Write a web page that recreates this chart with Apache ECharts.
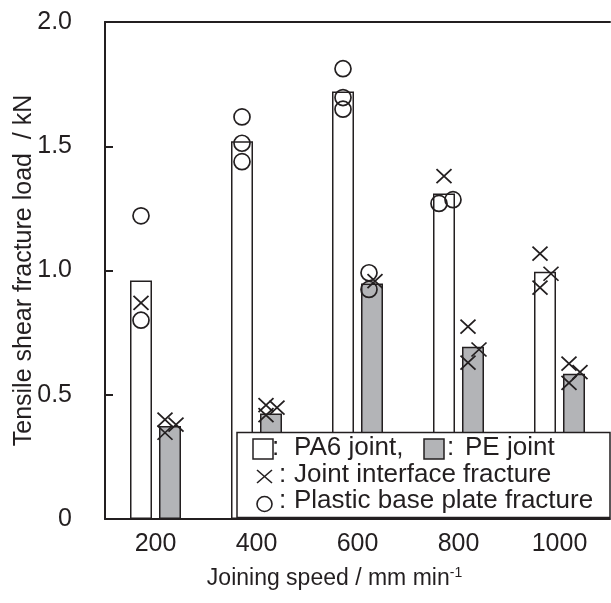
<!DOCTYPE html>
<html>
<head>
<meta charset="utf-8">
<script src="https://cdn.jsdelivr.net/npm/echarts@6/dist/echarts.min.js"></script>
<style>
html,body{margin:0;padding:0;background:#fff;}
#chart{width:611px;height:603px;}
</style>
</head>
<body>
<div id="chart"></div>
<script>
// ---- data ----
const categories = ['200', '400', '600', '800', '1000'];
const yTicks = [0, 0.5, 1.0, 1.5, 2.0];
const yTickLabels = ['0', '0.5', '1.0', '1.5', '2.0'];
const pa6Load = [0.96, 1.52, 1.72, 1.31, 0.995];
const peLoad = [0.374, 0.425, 0.948, 0.693, 0.585];
// individual specimens: joint interface fracture (×) and plastic base plate fracture (○)
const pa6Interface = [[0.87], [], [], [1.38], [1.068, 0.987, 0.931]];
const pa6BasePlate = [[1.22, 0.80], [1.618, 1.512, 1.438], [1.812, 1.696, 1.649], [1.27, 1.285], []];
const peInterface = [[0.40, 0.38, 0.347], [0.458, 0.448, 0.418], [0.957], [0.774, 0.682, 0.629], [0.625, 0.591, 0.548]];
const peBasePlate = [[], [], [0.991, 0.924], [], []];

// ---- styles ----
const INK = '#231f20';
const GREY = '#b3b4b7';
const FONT = '"Liberation Sans", Arial, sans-serif';
const BAR_W = 22;
const BAR_GAP = 7;
const HALF_PITCH = (BAR_W + BAR_GAP) / 2;

// small horizontal spread so overlapping specimen markers stay visible
function crossShift(group, i, circles) {
  const near = circles.some(c => Math.abs(c - group[i]) < 0.04);
  if (near) return 3;
  if (group.length > 1) return i % 2 === 1 ? 6 : -5;
  return 0;
}
function circleShift(group, i, crosses) {
  const nearCross = crosses.some(c => Math.abs(c - group[i]) < 0.04);
  if (nearCross) return -3;
  const close = group.some((v, j) => j !== i && Math.abs(v - group[i]) < 0.03);
  if (close) return i % 2 === 1 ? 9 : -5;
  return 0;
}

const crossData = [];
const circleData = [];
function addMarkers(interfaceArr, baseArr, side) {
  categories.forEach((cat, k) => {
    const xs = interfaceArr[k], os = baseArr[k];
    xs.forEach((v, i) => crossData.push({ value: [cat, v], symbolOffset: [side * HALF_PITCH + crossShift(xs, i, os), 0] }));
    os.forEach((v, i) => circleData.push({ value: [cat, v], symbolOffset: [side * HALF_PITCH + circleShift(os, i, xs), 0] }));
  });
}
addMarkers(pa6Interface, pa6BasePlate, -1);
addMarkers(peInterface, peBasePlate, 1);

const chart = echarts.init(document.getElementById('chart'), null, { renderer: 'canvas' });

const option = {
  animation: false,
  backgroundColor: '#fff',
  textStyle: { fontFamily: FONT, color: INK },
  grid: { left: 105, right: 1, top: 22, bottom: 84, containLabel: false, outerBoundsMode: 'none' },
  xAxis: [{
    type: 'category',
    data: categories,
    position: 'bottom',
    axisLine: { show: true, lineStyle: { color: INK, width: 2 } },
    axisTick: { show: false },
    axisLabel: { fontSize: 25, color: INK, fontFamily: FONT, margin: 13 },
    name: 'Joining speed / mm min{sup|-1}',
    nameLocation: 'middle',
    nameGap: 47,
    nameMoveOverlap: false,
    nameTextStyle: {
      fontSize: 23, color: INK, fontFamily: FONT,
      padding: [0, 46, 0, 0],
      rich: { sup: { fontSize: 14, color: INK, fontFamily: FONT, verticalAlign: 'top', padding: [0, 0, 12, 0] } }
    }
  }, {
    type: 'category',
    data: categories,
    position: 'top',
    axisLine: { show: true, lineStyle: { color: INK, width: 2 } },
    axisTick: { show: false },
    axisLabel: { show: false }
  }],
  yAxis: {
    type: 'value',
    min: 0, max: 2, interval: 0.5,
    axisLine: { show: true, lineStyle: { color: INK, width: 2 } },
    axisTick: { show: true, inside: true, length: 8, lineStyle: { color: INK, width: 2 } },
    splitLine: { show: false },
    axisLabel: {
      fontSize: 25, color: INK, fontFamily: FONT, margin: 33,
      formatter: v => { const i = yTicks.findIndex(t => Math.abs(t - v) < 1e-9); return i >= 0 ? yTickLabels[i] : ''; }
    },
    name: 'Tensile shear fracture load  / kN',
    nameLocation: 'middle',
    nameGap: 68,
    nameMoveOverlap: false,
    nameTextStyle: { fontSize: 25, color: INK, fontFamily: FONT }
  },
  series: [{
    name: 'PA6 joint',
    type: 'bar',
    data: pa6Load,
    barWidth: BAR_W,
    barGap: (BAR_GAP / BAR_W * 100).toFixed(1) + '%',
    itemStyle: { color: '#fff', borderColor: INK, borderWidth: 1.5 },
    silent: true,
    z: 2
  }, {
    name: 'PE joint',
    type: 'bar',
    data: peLoad,
    barWidth: BAR_W,
    itemStyle: { color: GREY, borderColor: INK, borderWidth: 1.5 },
    silent: true,
    z: 2
  }, {
    name: 'Joint interface fracture',
    type: 'scatter',
    data: crossData,
    symbol: 'path://M0,0L10,10M10,0L0,10',
    symbolSize: [15, 14],
    itemStyle: { color: 'rgba(0,0,0,0)', borderColor: INK, borderWidth: 1.7, opacity: 1 },
    silent: true,
    z: 5
  }, {
    name: 'Plastic base plate fracture',
    type: 'scatter',
    data: circleData,
    symbol: 'circle',
    symbolSize: 16,
    itemStyle: { color: 'rgba(0,0,0,0)', borderColor: INK, borderWidth: 1.7, opacity: 1 },
    silent: true,
    z: 5
  }],
  graphic: {
    elements: [
      { type: 'rect', z: 100, shape: { x: 237, y: 432.5, width: 373, height: 85 },
        style: { fill: '#fff', stroke: INK, lineWidth: 1.5 } },
      { type: 'rect', z: 101, shape: { x: 253, y: 439, width: 20, height: 20 },
        style: { fill: '#fff', stroke: INK, lineWidth: 1.5 } },
      { type: 'text', z: 101, x: 272, y: 447.5,
        style: { text: ':', font: '26px ' + FONT, fill: INK, textVerticalAlign: 'middle' } },
      { type: 'text', z: 101, x: 294, y: 447.5,
        style: { text: 'PA6 joint,', font: '26px ' + FONT, fill: INK, textVerticalAlign: 'middle' } },
      { type: 'rect', z: 101, shape: { x: 424, y: 439, width: 20, height: 20 },
        style: { fill: GREY, stroke: INK, lineWidth: 1.5 } },
      { type: 'text', z: 101, x: 447, y: 447.5,
        style: { text: ':', font: '26px ' + FONT, fill: INK, textVerticalAlign: 'middle' } },
      { type: 'text', z: 101, x: 465, y: 447.5,
        style: { text: 'PE joint', font: '26px ' + FONT, fill: INK, textVerticalAlign: 'middle' } },
      { type: 'line', z: 101, shape: { x1: 257, y1: 470, x2: 272, y2: 483 }, style: { stroke: INK, lineWidth: 1.6 } },
      { type: 'line', z: 101, shape: { x1: 272, y1: 470, x2: 257, y2: 483 }, style: { stroke: INK, lineWidth: 1.6 } },
      { type: 'text', z: 101, x: 279, y: 475,
        style: { text: ':', font: '26px ' + FONT, fill: INK, textVerticalAlign: 'middle' } },
      { type: 'text', z: 101, x: 294, y: 475,
        style: { text: 'Joint interface fracture', font: '26px ' + FONT, fill: INK, textVerticalAlign: 'middle' } },
      { type: 'circle', z: 101, shape: { cx: 264.5, cy: 504, r: 7.5 }, style: { fill: 'none', stroke: INK, lineWidth: 1.6 } },
      { type: 'text', z: 101, x: 279, y: 501,
        style: { text: ':', font: '26px ' + FONT, fill: INK, textVerticalAlign: 'middle' } },
      { type: 'text', z: 101, x: 294, y: 501,
        style: { text: 'Plastic base plate fracture', font: '26px ' + FONT, fill: INK, textVerticalAlign: 'middle' } }
    ]
  }
};
chart.setOption(option);
</script>
</body>
</html>
